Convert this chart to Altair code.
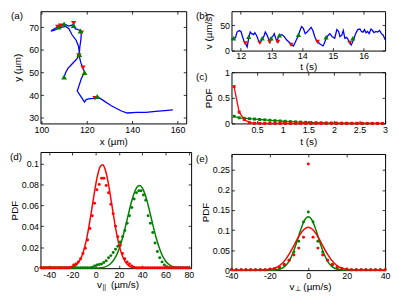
import altair as alt
import pandas as pd

FONT = "Liberation Sans"
LFS = 9      # tick labels
TFS = 10     # axis titles / panel letters
RED = "#ff0000"
GREEN = "#008000"
BLUE = "#0000ff"

# ---------------- (a) trajectory ----------------
traj_x = [157.9, 154.4, 150.3, 146.1, 141.9, 137.8, 135.0, 130.8, 126.7, 124.6, 122.8, 120.8, 119.7, 119.0,
          118.1, 116.7, 115.8, 116.7, 117.6, 119.0, 118.3, 117.4, 116.9, 116.7, 116.9, 117.4, 117.6, 116.9,
          114.9, 114.2, 112.1, 110.0, 108.2, 106.5, 105.1, 104.2, 105.8, 107.9, 110.7, 112.1, 113.5, 115.3,
          116.3, 116.7, 115.8, 113.5, 111.7, 110.7, 110.0]
traj_y = [33.5, 33.2, 32.8, 32.4, 32.4, 32.1, 33.1, 35.3, 38.0, 39.4, 38.6, 38.3, 38.0, 36.9,
          38.3, 40.4, 41.8, 44.5, 47.3, 50.0, 52.1, 54.2, 56.2, 57.9, 61.0, 64.5, 67.5, 68.6,
          69.3, 71.1, 70.4, 71.4, 70.4, 69.7, 68.9, 68.2, 68.6, 69.7, 70.3, 69.3, 66.6, 64.2,
          61.7, 59.0, 56.2, 53.7, 51.8, 50.0, 48.0]
a_red_x = [107.2, 108.4, 114.2, 117.6, 118.3, 123.6, 116.5]
a_red_y = [70.0, 70.6, 71.7, 67.5, 52.1, 38.6, 57.5]
a_green_x = [107.6, 110.0, 114.2, 117.2, 116.7, 110.0, 119.0, 124.6]
a_green_y = [70.0, 71.4, 70.7, 68.3, 57.9, 48.0, 50.0, 39.4]

# ---------------- (b) speed vs time ----------------
b_t = [11.70, 11.75, 11.83, 11.88, 11.95, 12.01, 12.06, 12.11, 12.16, 12.21, 12.27, 12.31, 12.36, 12.42,
       12.46, 12.52, 12.57, 12.63, 12.68, 12.71, 12.75, 12.80, 12.85, 12.90, 12.95, 12.97, 13.04, 13.09,
       13.14, 13.18, 13.23, 13.26, 13.34, 13.42, 13.49, 13.57, 13.65, 13.72, 13.79, 13.86, 13.93, 13.98,
       14.04, 14.10, 14.16, 14.23, 14.29, 14.35, 14.41, 14.47, 14.51, 14.57, 14.63, 14.68, 14.73, 14.78,
       14.85, 14.90, 14.98, 15.06, 15.13, 15.19, 15.23, 15.29, 15.34, 15.39, 15.45, 15.50, 15.55, 15.60,
       15.65, 15.69, 15.74, 15.81, 15.88, 15.93, 15.98, 16.03, 16.08, 16.13, 16.18, 16.24, 16.29, 16.34,
       16.40, 16.46, 16.52, 16.58, 16.64, 16.70]
b_v = [22.0, 24.4, 25.6, 36.6, 39.6, 37.8, 27.5, 18.3, 13.4, 7.3, 27.5, 36.6, 33.5, 31.7,
       35.4, 29.3, 21.4, 15.3, 21.4, 24.4, 27.5, 36.6, 31.7, 24.4, 17.0, 24.4, 27.5, 33.5,
       24.4, 18.3, 27.5, 30.5, 31.7, 27.5, 21.4, 17.0, 12.2, 9.2, 18.3, 27.5, 39.7, 47.6,
       43.9, 33.5, 36.6, 41.5, 45.8, 39.7, 27.5, 19.5, 17.0, 13.4, 11.0, 9.2, 15.3, 24.4,
       30.5, 33.5, 27.5, 24.4, 41.5, 37.8, 27.5, 30.5, 39.7, 24.4, 26.2, 21.4, 15.3, 11.0,
       18.3, 24.4, 33.5, 41.5, 42.7, 37.8, 36.6, 41.5, 35.4, 37.8, 33.5, 42.7, 39.7, 35.4,
       37.8, 36.6, 39.7, 33.5, 30.5, 21.4]
b_red_t = [12.15, 12.62, 12.94, 13.21, 13.64, 14.50, 15.55]
b_red_v = [14.3, 15.5, 17.3, 17.3, 11.3, 17.3, 15.5]
b_green_t = [11.77, 12.26, 12.70, 12.99, 13.26, 13.88, 14.78, 15.65]
b_green_v = [24.4, 27.4, 24.4, 24.4, 30.4, 31.5, 26.2, 24.4]

# ---------------- (c) PDF of durations ----------------
c_t = [0.05, 0.15, 0.25, 0.35, 0.45, 0.55, 0.65, 0.75, 0.85, 0.95, 1.05, 1.15, 1.25, 1.35, 1.45,
       1.55, 1.65, 1.75, 1.85, 1.95, 2.05, 2.15, 2.25, 2.35, 2.45, 2.55, 2.65, 2.75, 2.85, 2.95]
c_red = [0.72, 0.22, 0.075, 0.015, 0.004, 0.001, 0.0, 0.0, 0.0, 0.0, 0.0, 0.0, 0.0, 0.0, 0.0,
         0.0, 0.0, 0.0, 0.0, 0.0, 0.0, 0.0, 0.0, 0.0, 0.0, 0.0, 0.0, 0.0, 0.0, 0.0]
c_green = [0.14, 0.11, 0.10, 0.092, 0.085, 0.077, 0.07, 0.062, 0.055, 0.048, 0.042, 0.036, 0.03, 0.026, 0.022,
           0.018, 0.015, 0.012, 0.01, 0.008, 0.006, 0.005, 0.004, 0.003, 0.002, 0.002, 0.001, 0.001, 0.001, 0.0]

# ---------------- (d) PDF of parallel velocity ----------------
d_bins = [-47, -45, -43, -41, -39, -37, -35, -33, -31, -29, -27, -25, -23, -21, -19, -17, -15, -13, -11, -9,
          -7, -5, -3, -1, 1, 3, 5, 7, 9, 11, 13, 15, 17, 19, 21, 23, 25, 27, 29, 31,
          33, 35, 37, 39, 41, 43, 45, 47, 49, 51, 53, 55, 57, 59, 61, 63, 65, 67, 69, 71,
          73, 75, 77, 79]
d_red_pts = [0.0005, 0.0005, 0.0005, 0.0005, 0.0005, 0.0005, 0.0005, 0.0005, 0.0005, 0.0005, 0.0005, 0.0005, 0.0005, 0.001, 0.003, 0.004, 0.006, 0.009, 0.014, 0.019,
             0.027, 0.038, 0.05, 0.062, 0.075, 0.08, 0.086, 0.086, 0.079, 0.072, 0.061, 0.052, 0.04, 0.03, 0.022, 0.014, 0.009, 0.006, 0.004, 0.002,
             0.001, 0.0005, 0.0005, 0.0005, 0.0005, 0.0005, 0.0005, 0.0005, 0.0005, 0.0005, 0.0005, 0.0005, 0.0005, 0.0005, 0.0005, 0.0005, 0.0005, 0.0005, 0.0005, 0.0005,
             0.0005, 0.0005, 0.0005, 0.0005]
d_green_pts = [0.0005, 0.0005, 0.0005, 0.0005, 0.0005, 0.0005, 0.0005, 0.0005, 0.0005, 0.0005, 0.0005, 0.0005, 0.0005, 0.0005, 0.0005, 0.0005, 0.0005, 0.0005, 0.0005, 0.0005,
               0.0005, 0.0005, 0.001, 0.002, 0.003, 0.0035, 0.004, 0.0055, 0.007, 0.01, 0.012, 0.015, 0.018, 0.021, 0.025, 0.03, 0.036, 0.043, 0.05, 0.058,
               0.066, 0.072, 0.074, 0.074, 0.07, 0.065, 0.05, 0.043, 0.034, 0.024, 0.016, 0.01, 0.006, 0.003, 0.0015, 0.0005, 0.0005, 0.0005, 0.0005, 0.0005,
               0.0005, 0.0005, 0.0005, 0.0005]
d_red_fit_x = [-48, -40, -32, -24, -20, -16, -12, -8, -4, -2, 0, 2, 4, 6, 8, 10, 12, 14, 16, 18,
               20, 24, 28, 32, 40, 48, 56, 64, 72, 82]
d_red_fit_y = [0.0, 0.0, 0.0, 0.0002, 0.001, 0.0038, 0.0113, 0.0272, 0.0522, 0.0664, 0.0799, 0.0907, 0.0974, 0.0988, 0.0947, 0.0858, 0.0734, 0.0593, 0.0453, 0.0327,
               0.0223, 0.0088, 0.0027, 0.0007, 0.0, 0.0, 0.0, 0.0, 0.0, 0.0]
d_green_fit_x = [-48, -32, -16, 0, 4, 8, 12, 16, 20, 24, 28, 30, 32, 34, 36, 38, 40, 42, 44, 46,
                 48, 52, 56, 60, 64, 68, 72, 82]
d_green_fit_y = [0.0, 0.0, 0.0, 0.0001, 0.0004, 0.0012, 0.0035, 0.0086, 0.0181, 0.0329, 0.0512, 0.0603, 0.0683, 0.0745, 0.0781, 0.0789, 0.0767, 0.0717, 0.0645, 0.0558,
                 0.0465, 0.0288, 0.0153, 0.0069, 0.0027, 0.0009, 0.0003, 0.0]

# ---------------- (e) PDF of perpendicular velocity ----------------
e_bins = [-40, -37.5, -35, -32.5, -30, -27.5, -25, -22.5, -20, -17.5, -15, -12.5, -10, -7.5, -5, -2.5, 0,
          2.5, 5, 7.5, 10, 12.5, 15, 17.5, 20, 22.5, 25, 27.5, 30, 32.5, 35, 37.5, 40]
e_red_pts = [0.001, 0.001, 0.001, 0.001, 0.001, 0.001, 0.001, 0.001, 0.002, 0.004, 0.008, 0.015, 0.025, 0.038, 0.055, 0.082, 0.265,
             0.082, 0.055, 0.038, 0.025, 0.015, 0.008, 0.004, 0.002, 0.001, 0.001, 0.001, 0.001, 0.001, 0.001, 0.001, 0.001]
e_green_pts = [0.001, 0.001, 0.001, 0.001, 0.001, 0.001, 0.001, 0.001, 0.002, 0.003, 0.005, 0.012, 0.025, 0.045, 0.072, 0.12, 0.145,
               0.12, 0.072, 0.045, 0.025, 0.012, 0.005, 0.003, 0.002, 0.001, 0.001, 0.001, 0.001, 0.001, 0.001, 0.001, 0.001]
e_fit_x = [-40, -28, -24, -20, -18, -16, -14, -12, -10, -8, -6, -4, -2, 0, 2, 4, 6, 8, 10, 12, 14, 16, 18, 20, 24, 28, 40]
e_red_fit = [0.0, 0.0001, 0.0004, 0.002, 0.0043, 0.0084, 0.0153, 0.0256, 0.0397, 0.0567, 0.0749, 0.0913, 0.1028, 0.107,
             0.1028, 0.0913, 0.0749, 0.0567, 0.0397, 0.0256, 0.0153, 0.0084, 0.0043, 0.002, 0.0004, 0.0001, 0.0]
e_green_fit = [0.0, 0.0, 0.0, 0.0001, 0.0004, 0.0014, 0.0041, 0.0103, 0.0224, 0.0426, 0.070, 0.100, 0.124, 0.133,
               0.124, 0.100, 0.070, 0.0426, 0.0224, 0.0103, 0.0041, 0.0014, 0.0004, 0.0001, 0.0, 0.0, 0.0]

# ---------------- helpers ----------------
TICK = dict(domain=False, grid=False, ticks=True, tickSize=3, offset=-3,
            tickColor="black", tickWidth=0.8)


def axis(values, title, orient, title_pad=3, label_pad=2):
    kw = dict(values=values, orient=orient, labelExpr="'' + datum.value",
              labelPadding=label_pad, labelFont=FONT, labelFontSize=LFS, labelColor="black",
              labelFlush=False, labelOverlap=False,
              titleFont=FONT, titleFontSize=TFS, titleFontWeight="normal",
              titleColor="black", titlePadding=title_pad, **TICK)
    kw["title"] = title
    return alt.Axis(**kw)


def mirror_axis(values, orient):
    kw = dict(values=values, orient=orient, labels=False, **TICK)
    kw["title"] = None
    return alt.Axis(**kw)


def X(field, dom, ax):
    return alt.X(f"{field}:Q", scale=alt.Scale(domain=dom, nice=False, zero=False), axis=ax)


def Y(field, dom, ax):
    return alt.Y(f"{field}:Q", scale=alt.Scale(domain=dom, nice=False, zero=False), axis=ax)


def label(txt, dx, dy=0, size=TFS, baseline="top"):
    return alt.Chart(pd.DataFrame({"t": [txt]})).mark_text(
        align="left", baseline=baseline, font=FONT, fontSize=size, color="black"
    ).encode(text="t:N", x=alt.value(dx), y=alt.value(dy))


def mirror(df, xf, yf, xdom, ydom, xvals, yvals):
    return alt.Chart(df).mark_point(opacity=0).encode(
        x=X(xf, xdom, mirror_axis(xvals, "top")),
        y=Y(yf, ydom, mirror_axis(yvals, "right")))


LBL_X = -36

# ---------------- panel (a) ----------------
A_W, A_H = 148, 114
a_xv = [100, 120, 140, 160]
a_yv = [30, 40, 50, 60, 70]
ax_ax = axis(a_xv, "x (µm)", "bottom", title_pad=2)
ax_ay = axis(a_yv, "y (µm)", "left", title_pad=6)
a_dom_x = [99.6, 163.8]
a_dom_y = [27.5, 77]
df_traj = pd.DataFrame({"x": traj_x, "y": traj_y, "o": list(range(len(traj_x)))})
a_line = alt.Chart(df_traj).mark_line(color=BLUE, strokeWidth=1.3).encode(
    x=X("x", a_dom_x, ax_ax), y=Y("y", a_dom_y, ax_ay), order="o:Q")
a_r = alt.Chart(pd.DataFrame({"x": a_red_x, "y": a_red_y})).mark_point(
    shape="triangle-down", filled=True, color=RED, size=28, opacity=1).encode(
    x=X("x", a_dom_x, None), y=Y("y", a_dom_y, None))
a_g = alt.Chart(pd.DataFrame({"x": a_green_x, "y": a_green_y})).mark_point(
    shape="triangle-up", filled=True, color=GREEN, size=34, opacity=1).encode(
    x=X("x", a_dom_x, None), y=Y("y", a_dom_y, None))
panel_a = alt.layer(
    a_line, mirror(df_traj, "x", "y", a_dom_x, a_dom_y, a_xv, a_yv), a_r, a_g, label("(a)", -30, 0)
).resolve_axis(x="independent", y="independent").properties(width=A_W, height=A_H)

# ---------------- panel (b) ----------------
B_W, B_H = 156, 40
b_xv = [12, 13, 14, 15, 16]
b_yv = [0, 50]
b_ax = axis(b_xv, "t (s)", "bottom", title_pad=1, label_pad=1)
b_ay = axis(b_yv, "v (µm/s)", "left", title_pad=6)
b_dom_x = [11.7, 16.7]
b_dom_y = [0, 78]
df_b = pd.DataFrame({"t": b_t, "v": b_v})
b_line = alt.Chart(df_b).mark_line(color=BLUE, strokeWidth=1.3).encode(
    x=X("t", b_dom_x, b_ax), y=Y("v", b_dom_y, b_ay))
b_r = alt.Chart(pd.DataFrame({"t": b_red_t, "v": b_red_v})).mark_point(
    shape="triangle-down", filled=True, color=RED, size=24, opacity=1).encode(
    x=X("t", b_dom_x, None), y=Y("v", b_dom_y, None))
b_g = alt.Chart(pd.DataFrame({"t": b_green_t, "v": b_green_v})).mark_point(
    shape="triangle-up", filled=True, color=GREEN, size=28, opacity=1).encode(
    x=X("t", b_dom_x, None), y=Y("v", b_dom_y, None))
panel_b = alt.layer(
    b_line, mirror(df_b, "t", "v", b_dom_x, b_dom_y, b_xv, b_yv), b_r, b_g, label("(b)", LBL_X, 0)
).resolve_axis(x="independent", y="independent").properties(width=B_W, height=B_H)

# ---------------- panel (c) ----------------
C_W, C_H = 156, 52
c_xv = [0.5, 1, 1.5, 2, 2.5, 3]
c_yv = [0, 0.5, 1]
c_ax = axis(c_xv, "t (s)", "bottom", title_pad=2)
c_ay = axis(c_yv, "PDF", "left", title_pad=4)
c_dom_x = [0, 3]
c_dom_y = [0, 1]
df_cg = pd.DataFrame({"t": c_t, "p": c_green})
c_g = alt.Chart(df_cg).mark_line(
    color=GREEN, strokeWidth=1.3,
    point=alt.OverlayMarkDef(filled=True, color=GREEN, size=9, shape="square")).encode(
    x=X("t", c_dom_x, c_ax), y=Y("p", c_dom_y, c_ay))
c_r = alt.Chart(pd.DataFrame({"t": c_t, "p": c_red})).mark_line(
    color=RED, strokeWidth=1.3,
    point=alt.OverlayMarkDef(filled=True, color=RED, size=9, shape="square")).encode(
    x=X("t", c_dom_x, None), y=Y("p", c_dom_y, None))
panel_c = alt.layer(
    c_g, mirror(df_cg, "t", "p", c_dom_x, c_dom_y, c_xv, c_yv), c_r, label("(c)", LBL_X, 0)
).resolve_axis(x="independent", y="independent").properties(width=C_W, height=C_H)

# ---------------- panel (d) ----------------
D_W, D_H = 153, 118
d_xv = [-40, -20, 0, 20, 40, 60, 80]
d_yv = [0, 0.02, 0.04, 0.06, 0.08, 0.1]
d_ax = axis(d_xv, None, "bottom")
d_ay = axis(d_yv, "PDF", "left", title_pad=2)
d_dom_x = [-47.5, 82]
d_dom_y = [0, 0.111]
df_dg = pd.DataFrame({"x": d_green_fit_x, "y": d_green_fit_y})
d_gf = alt.Chart(df_dg).mark_line(
    color=GREEN, strokeWidth=1.5, interpolate="monotone").encode(
    x=X("x", d_dom_x, d_ax), y=Y("y", d_dom_y, d_ay))
d_rf = alt.Chart(pd.DataFrame({"x": d_red_fit_x, "y": d_red_fit_y})).mark_line(
    color=RED, strokeWidth=1.5, interpolate="monotone").encode(
    x=X("x", d_dom_x, None), y=Y("y", d_dom_y, None))
d_gp = alt.Chart(pd.DataFrame({"x": d_bins, "y": d_green_pts})).mark_circle(
    color=GREEN, size=9, opacity=1).encode(x=X("x", d_dom_x, None), y=Y("y", d_dom_y, None))
d_rp = alt.Chart(pd.DataFrame({"x": d_bins, "y": d_red_pts})).mark_circle(
    color=RED, size=9, opacity=1).encode(x=X("x", d_dom_x, None), y=Y("y", d_dom_y, None))
panel_d = alt.layer(
    d_gf, mirror(df_dg, "x", "y", d_dom_x, d_dom_y, d_xv, d_yv), d_rf, d_gp, d_rp,
    label("(d)", -31, 0),
    label("v", D_W / 2 - 19, D_H + 20, baseline="alphabetic"),
    label("||", D_W / 2 - 13.5, D_H + 21.5, size=7, baseline="alphabetic"),
    label("(µm/s)", D_W / 2 - 5, D_H + 20, baseline="alphabetic"),
).resolve_axis(x="independent", y="independent").properties(width=D_W, height=D_H)

# ---------------- panel (e) ----------------
E_W, E_H = 156, 118
e_xv = [-40, -20, 0, 20, 40]
e_yv = [0, 0.05, 0.1, 0.15, 0.2, 0.25]
e_ax = axis(e_xv, None, "bottom")
e_ay = axis(e_yv, "PDF", "left", title_pad=2)
e_dom_x = [-40, 40]
e_dom_y = [0, 0.29]
df_eg = pd.DataFrame({"x": e_fit_x, "y": e_green_fit})
e_gf = alt.Chart(df_eg).mark_line(
    color=GREEN, strokeWidth=1.5, interpolate="monotone").encode(
    x=X("x", e_dom_x, e_ax), y=Y("y", e_dom_y, e_ay))
e_rf = alt.Chart(pd.DataFrame({"x": e_fit_x, "y": e_red_fit})).mark_line(
    color=RED, strokeWidth=1.5, interpolate="monotone").encode(
    x=X("x", e_dom_x, None), y=Y("y", e_dom_y, None))
e_gp = alt.Chart(pd.DataFrame({"x": e_bins, "y": e_green_pts})).mark_circle(
    color=GREEN, size=9, opacity=1).encode(x=X("x", e_dom_x, None), y=Y("y", e_dom_y, None))
e_rp = alt.Chart(pd.DataFrame({"x": e_bins, "y": e_red_pts})).mark_circle(
    color=RED, size=9, opacity=1).encode(x=X("x", e_dom_x, None), y=Y("y", e_dom_y, None))
panel_e = alt.layer(
    e_gf, mirror(df_eg, "x", "y", e_dom_x, e_dom_y, e_xv, e_yv), e_rf, e_gp, e_rp,
    label("(e)", LBL_X, 0),
    label("v", E_W / 2 - 19, E_H + 20, baseline="alphabetic"),
    label("⊥", E_W / 2 - 13.5, E_H + 21.5, size=7, baseline="alphabetic"),
    label("(µm/s)", E_W / 2 - 5, E_H + 20, baseline="alphabetic"),
).resolve_axis(x="independent", y="independent").properties(width=E_W, height=E_H)

# ---------------- layout ----------------
left_col = alt.vconcat(panel_a, panel_d, spacing=29, bounds="flush")
bc = alt.vconcat(panel_b, panel_c, spacing=22, bounds="flush")
right_col = alt.vconcat(bc, panel_e, spacing=6)
chart = alt.hconcat(left_col, right_col, spacing=0).properties(
    padding=0, background="white"
).configure_view(stroke="black", strokeWidth=1)

chart.save("out.html", embed_options={"renderer": "svg", "actions": False})
